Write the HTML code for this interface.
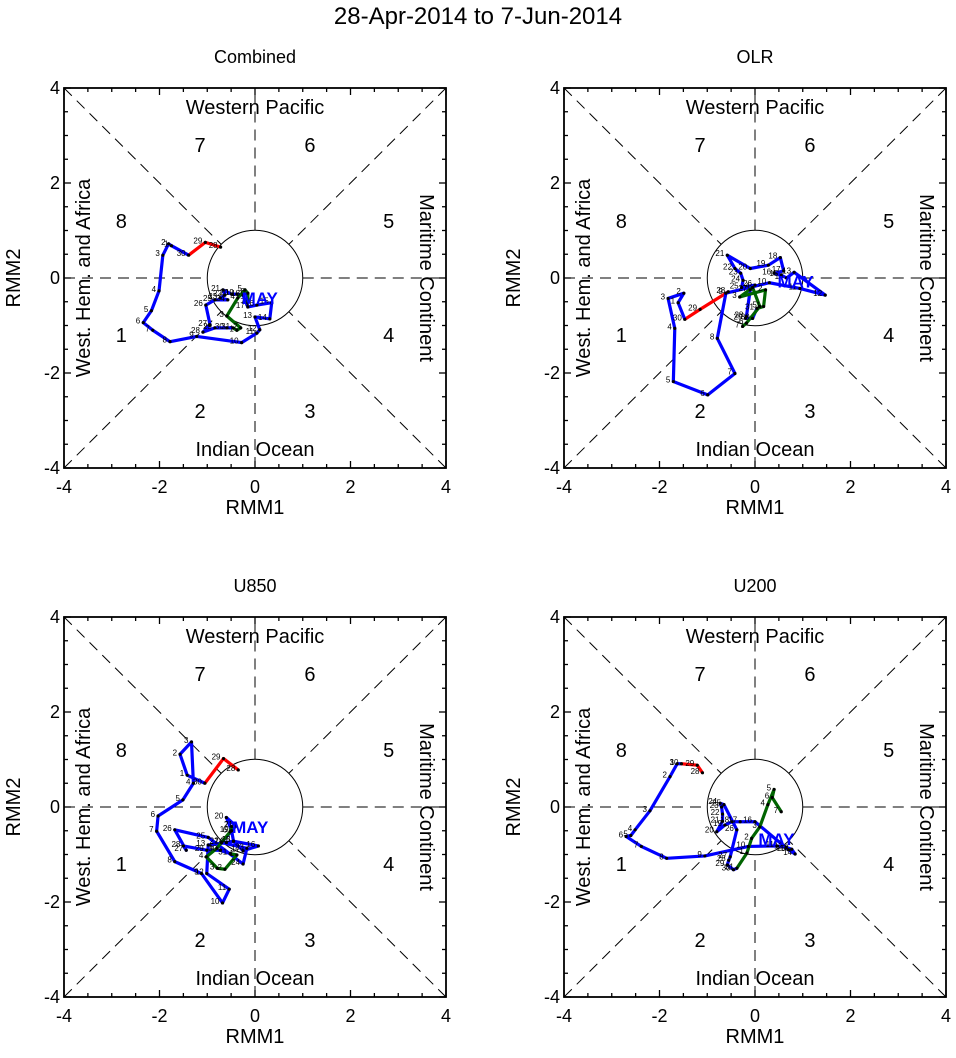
<!DOCTYPE html>
<html><head><meta charset="utf-8">
<style>
html,body{margin:0;padding:0;background:#fff}
svg{display:block;font-family:"Liberation Sans",Arial,sans-serif}
</style></head>
<body>
<svg id="fig" width="956" height="1058" viewBox="0 0 956 1058" xmlns="http://www.w3.org/2000/svg">
<text x="478" y="24" font-size="24" text-anchor="middle">28-Apr-2014 to 7-Jun-2014</text>
</svg>
<script>
// ---- data (RMM1, RMM2) ----
const panelTitles = ["Combined","OLR","U850","U200"];
const comb_apr_x = [-0.72,-1.04,-1.39];
const comb_apr_y = [0.65,0.75,0.48];
const comb_may_x = [-1.75,-1.81,-1.93,-2.01,-2.17,-2.34,-2.14,-1.78,-1.22,-0.28,0.04,0.10,0.00,0.31,0.35,0.04,-0.15,-0.25,-0.38,-0.49,-0.67,-0.63,-0.73,-0.57,-0.84,-1.03,-0.94,-1.09,-0.84,-0.59,-0.46];
const comb_may_y = [0.68,0.72,0.48,-0.27,-0.69,-0.94,-1.10,-1.34,-1.23,-1.36,-1.16,-1.09,-0.82,-0.86,-0.52,-0.57,-0.61,-0.36,-0.34,-0.34,-0.25,-0.36,-0.42,-0.46,-0.46,-0.57,-0.99,-1.14,-1.05,-1.05,-1.05];
const comb_jun_x = [-0.38,-0.30,-0.59,-0.36,-0.21,-0.15,-0.15];
const comb_jun_y = [-1.10,-1.05,-0.80,-0.42,-0.25,-0.32,-0.53];

const olr_apr_x = [-0.56,-1.15,-1.47];
const olr_apr_y = [-0.29,-0.66,-0.87];
const olr_may_x = [-1.61,-1.49,-1.82,-1.68,-1.71,-0.99,-0.42,-0.79,-0.61,0.30,0.94,1.47,0.82,0.66,0.55,0.40,0.60,0.53,0.28,-0.10,-0.58,-0.42,-0.30,-0.25,-0.28,0.00,-0.10,-0.18,-0.20,-0.05,0.04];
const olr_may_y = [-0.52,-0.32,-0.43,-1.06,-2.18,-2.46,-2.01,-1.27,-0.32,-0.10,-0.22,-0.36,0.12,0.00,0.06,0.10,0.15,0.43,0.27,0.20,0.48,0.20,0.10,-0.05,-0.20,-0.15,-0.25,-0.81,-0.85,-0.85,-0.64];
const olr_jun_x = [0.18,0.22,-0.32,-0.05,0.10,-0.18,-0.26];
const olr_jun_y = [-0.60,-0.25,-0.40,-0.20,-0.60,-0.95,-1.02];

const u850_apr_x = [-0.35,-0.66,-1.05];
const u850_apr_y = [0.78,1.02,0.50];
const u850_may_x = [-1.42,-1.57,-1.33,-1.29,-1.51,-2.03,-2.06,-1.68,-1.12,-0.68,-0.54,-1.01,-0.98,-0.60,-0.45,0.07,-0.25,-0.45,-0.49,-0.60,-0.40,-0.70,-0.17,-0.25,-0.98,-1.68,-1.44,-1.50,-1.01,-0.73,-0.52];
const u850_may_y = [0.67,1.11,1.37,0.50,0.15,-0.19,-0.51,-1.15,-1.40,-2.02,-1.73,-1.40,-0.80,-0.75,-0.72,-0.82,-0.92,-0.72,-0.50,-0.22,-0.40,-0.75,-0.87,-1.20,-0.64,-0.48,-0.91,-0.82,-0.91,-0.91,-0.98];
const u850_jun_x = [-0.38,-0.63,-0.79,-1.02,-0.80,-0.52,-0.49];
const u850_jun_y = [-1.01,-1.31,-1.29,-1.05,-0.87,-0.52,-0.41];

const u200_apr_x = [-1.10,-1.21,-1.54];
const u200_apr_y = [0.72,0.88,0.91];
const u200_may_x = [-1.63,-1.78,-2.20,-2.51,-2.60,-2.70,-2.38,-1.85,-1.05,-0.14,0.46,0.65,0.77,0.84,0.70,0.00,-0.31,-0.48,-0.63,-0.80,-0.68,-0.68,-0.70,-0.73,-0.65,-0.38,-0.52,-0.55,-0.58,-0.45,-0.38];
const u200_may_y = [0.91,0.64,-0.08,-0.48,-0.60,-0.62,-0.83,-1.08,-1.03,-0.83,-0.82,-0.85,-0.89,-0.99,-0.90,-0.31,-0.31,-0.31,-0.38,-0.52,-0.30,-0.15,0.00,0.08,0.05,-0.48,-1.05,-1.12,-1.22,-1.32,-1.29];
const u200_jun_x = [-0.17,-0.07,0.10,0.27,0.40,0.36,0.55];
const u200_jun_y = [-0.97,-0.66,-0.42,0.05,0.37,0.20,-0.10];

const mayLabelPos = [[0.1,-0.55],[0.85,-0.2],[-0.1,-0.55],[0.45,-0.8]];
const tickVals = [-4,-2,0,2,4];
const phaseLabels = ["1","2","3","4","5","6","7","8"];

const panels = [
 {t:0, apr:[comb_apr_x,comb_apr_y], may:[comb_may_x,comb_may_y], jun:[comb_jun_x,comb_jun_y], ox:64, oy:88},
 {t:1, apr:[olr_apr_x,olr_apr_y], may:[olr_may_x,olr_may_y], jun:[olr_jun_x,olr_jun_y], ox:564, oy:88},
 {t:2, apr:[u850_apr_x,u850_apr_y], may:[u850_may_x,u850_may_y], jun:[u850_jun_x,u850_jun_y], ox:64, oy:617},
 {t:3, apr:[u200_apr_x,u200_apr_y], may:[u200_may_x,u200_may_y], jun:[u200_jun_x,u200_jun_y], ox:564, oy:617}
];
const NS="http://www.w3.org/2000/svg";
const svg=document.getElementById('fig');
function mk(tag,attrs,parent,txt){const e=document.createElementNS(NS,tag);for(const k in attrs)e.setAttribute(k,attrs[k]);if(txt!==undefined)e.textContent=txt;(parent||svg).appendChild(e);return e;}
const W=382,H=380;
panels.forEach((p,pi)=>{
  const sx=v=>p.ox+(v+4)/8*W, sy=v=>p.oy+(4-v)/8*H;
  const g=mk('g',{});
  
  
  const tt=mk('text',{x:sx(0),y:p.oy-25,'font-size':18,'text-anchor':'middle'},g,panelTitles[pi]);
  
  const cx=sx(0),cy=sy(0),r=W/8,d=Math.SQRT1_2;
  const guides=[[-4,0,-1,0],[1,0,4,0],[0,-4,0,-1],[0,1,0,4],[-4,-4,-d,-d],[4,4,d,d],[-4,4,-d,d],[4,-4,d,-d]];
  guides.forEach(q=>{const l=mk('line',{x1:sx(q[0]),y1:sy(q[1]),x2:sx(q[2]),y2:sy(q[3]),stroke:'#000','stroke-width':1,'stroke-dasharray':'11,7'},g);
    });
  const c=mk('circle',{cx:cx,cy:cy,r:r,fill:'none',stroke:'#000','stroke-width':1},g);
  
  const fr=mk('rect',{x:p.ox,y:p.oy,width:W,height:H,fill:'none',stroke:'#000','stroke-width':1.8},g);
  
  for(let v=-4;v<=4.001;v+=0.5){
    const maj=Math.abs(v%2)<1e-6, L=maj?7:4;
    const X=sx(v),Y=sy(v);
    mk('line',{x1:X,y1:p.oy+H,x2:X,y2:p.oy+H-L,stroke:'#000','stroke-width':1.3},g);
    mk('line',{x1:X,y1:p.oy,x2:X,y2:p.oy+L,stroke:'#000','stroke-width':1.3},g);
    mk('line',{x1:p.ox,y1:Y,x2:p.ox+L,y2:Y,stroke:'#000','stroke-width':1.3},g);
    mk('line',{x1:p.ox+W,y1:Y,x2:p.ox+W-L,y2:Y,stroke:'#000','stroke-width':1.3},g);
  }
  tickVals.forEach(v=>{
    const a=mk('text',{x:sx(v),y:p.oy+H+25,'font-size':18,'text-anchor':'middle'},g,String(v));
    
    const b=mk('text',{x:p.ox-4,y:sy(v)+6,'font-size':18,'text-anchor':'end'},g,String(v));
    
  });
  const xl=mk('text',{x:sx(0),y:p.oy+H+46,'font-size':20,'text-anchor':'middle'},g,'RMM1');
  
  const yl=mk('text',{x:0,y:0,'font-size':20,'text-anchor':'middle',transform:`translate(${p.ox-44},${cy}) rotate(-90)`},g,'RMM2');
  
  const r1=mk('text',{x:cx,y:sy(3.6)+7,'font-size':20,'text-anchor':'middle'},g,'Western Pacific');
  
  const r2=mk('text',{x:cx,y:sy(-3.6)+7,'font-size':20,'text-anchor':'middle'},g,'Indian Ocean');
  
  const r3=mk('text',{x:0,y:0,'font-size':20,'text-anchor':'middle',transform:`translate(${sx(-3.6)+7},${cy}) rotate(-90)`},g,'West. Hem. and Africa');
  
  const r4=mk('text',{x:0,y:0,'font-size':20,'text-anchor':'middle',transform:`translate(${sx(3.6)-7},${cy}) rotate(90)`},g,'Maritime Continent');
  
  const phPos=[[-2.8,-1.2],[-1.15,-2.8],[1.15,-2.8],[2.8,-1.2],[2.8,1.2],[1.15,2.8],[-1.15,2.8],[-2.8,1.2]];
  phPos.forEach((q,i)=>{const t=mk('text',{x:sx(q[0]),y:sy(q[1])+7,'font-size':20,'text-anchor':'middle'},g,phaseLabels[i]);
    });
  const segs=[[p.apr,'#ff0000','april',28],[p.may,'#0000ff','may',1],[p.jun,'#006400','june',1]];
  const prevEnd=[null,[p.apr[0][2],p.apr[1][2]],[p.may[0][30],p.may[1][30]]];
  segs.forEach((s,si)=>{
    let pts=[];
    if(prevEnd[si]) pts.push(sx(prevEnd[si][0])+','+sy(prevEnd[si][1]));
    s[0][0].forEach((v,i)=>pts.push(sx(v)+','+sy(s[0][1][i])));
    const pl=mk('polyline',{points:pts.join(' '),fill:'none',stroke:s[1],'stroke-width':3.2,'stroke-linejoin':'round'},g);
    
  });
  segs.forEach((s)=>{
    s[0][0].forEach((v,i)=>{
      const X=sx(v),Y=sy(s[0][1][i]);
      const dt=mk('circle',{cx:X,cy:Y,r:1.6,fill:'#000'},g);
      
      const lb=mk('text',{x:X-3,y:Y+1,'font-size':8,'text-anchor':'end'},g,String(s[3]+i));
      
    });
  });
  const mp=mayLabelPos[pi];
  const ml=mk('text',{x:sx(mp[0]),y:sy(mp[1]),'font-size':17,'font-weight':'bold',fill:'#0000ff','text-anchor':'middle'},g,'MAY');
  
});
</script>
</body></html>
